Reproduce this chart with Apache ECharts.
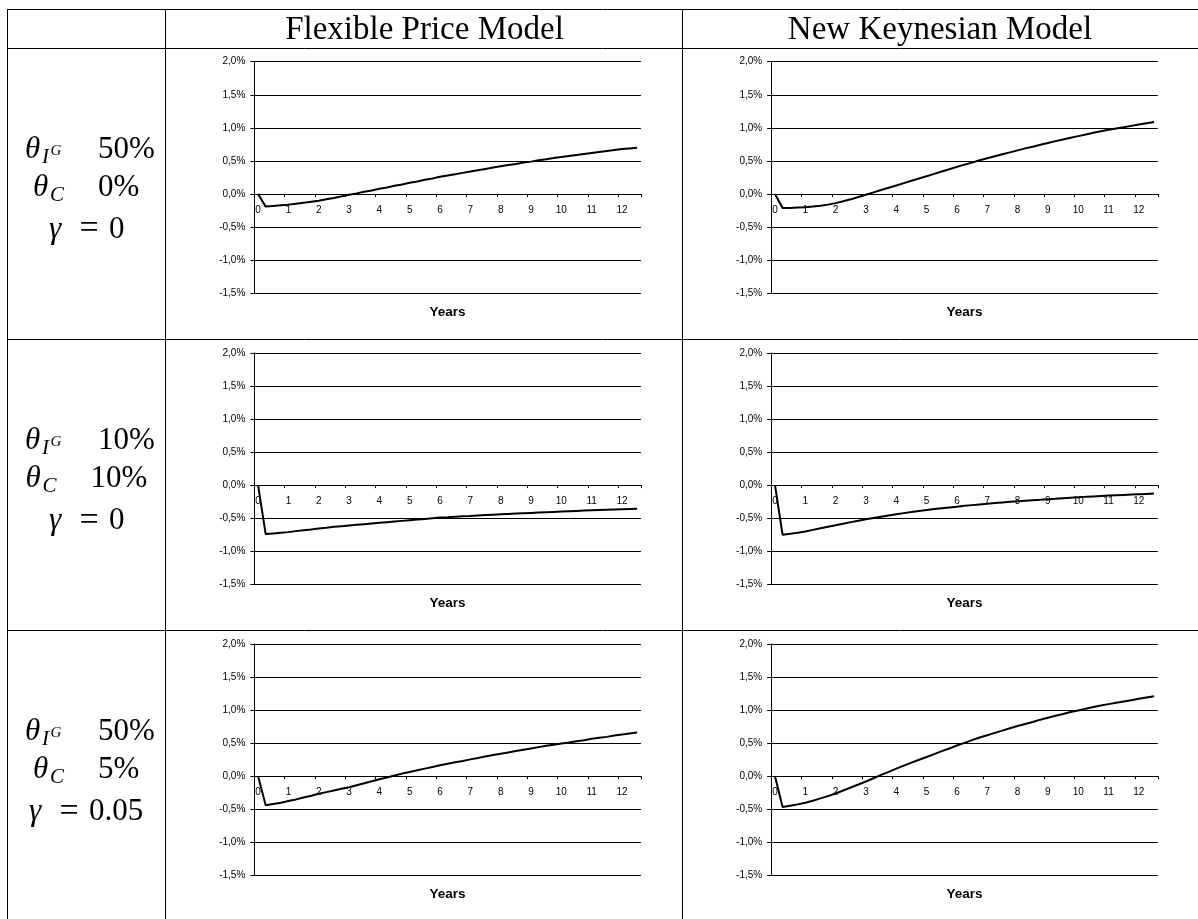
<!DOCTYPE html>
<html>
<head>
<meta charset="utf-8">
<script src="https://cdn.jsdelivr.net/npm/echarts@6/dist/echarts.min.js"></script>
<style>
html,body{margin:0;padding:0;background:#fff;}
#chart{width:1198px;height:919px;}
</style>
</head>
<body>
<div id="chart"></div>
<script>
// ---------- DATA ----------
// quarterly periods 0..50 (0 to 12.5 years)
const quarters = [0,1,2,3,4,5,6,7,8,9,10,11,12,13,14,15,16,17,18,19,20,21,22,23,24,25,26,27,28,29,30,31,32,33,34,35,36,37,38,39,40,41,42,43,44,45,46,47,48,49,50];
const yearLabels = ['0','1','2','3','4','5','6','7','8','9','10','11','12'];
const columnTitles = ['Flexible Price Model', 'New Keynesian Model'];
const thetaIG = ['50%', '10%', '50%'];
const thetaC = ['0%', '10%', '5%'];
const gammaVals = ['0', '0', '0.05'];

// values in percent
const flexRow1 = [0,-0.19,-0.18,-0.17,-0.16,-0.145,-0.13,-0.115,-0.10,-0.08,-0.06,-0.035,-0.01,0.01,0.035,0.055,0.08,0.10,0.125,0.145,0.17,0.19,0.215,0.235,0.26,0.28,0.30,0.32,0.34,0.36,0.38,0.40,0.42,0.44,0.455,0.475,0.49,0.51,0.525,0.545,0.56,0.575,0.59,0.605,0.62,0.635,0.65,0.665,0.68,0.69,0.70];
const nkRow1 = [0,-0.21,-0.21,-0.205,-0.20,-0.19,-0.178,-0.16,-0.137,-0.11,-0.08,-0.045,-0.01,0.025,0.06,0.095,0.13,0.165,0.20,0.235,0.27,0.305,0.34,0.375,0.41,0.445,0.475,0.51,0.54,0.57,0.60,0.63,0.66,0.69,0.715,0.745,0.77,0.80,0.825,0.85,0.875,0.90,0.925,0.95,0.97,0.99,1.01,1.03,1.05,1.07,1.09];
const flexRow2 = [0,-0.74,-0.73,-0.72,-0.71,-0.695,-0.68,-0.67,-0.655,-0.645,-0.63,-0.62,-0.61,-0.60,-0.59,-0.58,-0.57,-0.56,-0.55,-0.54,-0.53,-0.52,-0.51,-0.50,-0.49,-0.485,-0.478,-0.471,-0.465,-0.458,-0.452,-0.446,-0.44,-0.435,-0.43,-0.425,-0.42,-0.415,-0.41,-0.405,-0.40,-0.395,-0.39,-0.385,-0.38,-0.376,-0.372,-0.368,-0.364,-0.36,-0.356];
const nkRow2 = [0,-0.75,-0.735,-0.718,-0.70,-0.676,-0.652,-0.628,-0.605,-0.582,-0.559,-0.537,-0.515,-0.495,-0.476,-0.458,-0.44,-0.423,-0.407,-0.391,-0.375,-0.362,-0.349,-0.337,-0.325,-0.313,-0.302,-0.291,-0.28,-0.27,-0.261,-0.252,-0.243,-0.235,-0.227,-0.22,-0.212,-0.205,-0.197,-0.19,-0.183,-0.177,-0.17,-0.164,-0.158,-0.153,-0.148,-0.143,-0.138,-0.133,-0.128];
const flexRow3 = [0,-0.44,-0.42,-0.40,-0.375,-0.35,-0.32,-0.295,-0.265,-0.24,-0.215,-0.19,-0.165,-0.135,-0.105,-0.075,-0.045,-0.02,0.01,0.04,0.065,0.09,0.115,0.14,0.165,0.19,0.21,0.23,0.255,0.275,0.30,0.32,0.34,0.36,0.38,0.40,0.42,0.44,0.46,0.475,0.495,0.51,0.53,0.545,0.565,0.58,0.595,0.615,0.63,0.645,0.66];
const nkRow3 = [0,-0.465,-0.445,-0.425,-0.40,-0.37,-0.335,-0.30,-0.26,-0.215,-0.17,-0.125,-0.08,-0.03,0.02,0.065,0.115,0.16,0.205,0.25,0.29,0.335,0.38,0.42,0.465,0.505,0.545,0.585,0.62,0.655,0.69,0.725,0.76,0.79,0.82,0.855,0.885,0.915,0.94,0.97,0.995,1.02,1.045,1.07,1.09,1.11,1.13,1.15,1.17,1.19,1.21];

const panelData = [[flexRow1, nkRow1], [flexRow2, nkRow2], [flexRow3, nkRow3]];
const Y_MIN = -1.5, Y_MAX = 2.0, Y_STEP = 0.5;

// ---------- LAYOUT ----------
const ROW_H = 291.1;
const GRID_TOP0 = 61.7, GRID_H = 231.6, GRID_W = 386.6;
const colLeft = [254.3, 771.2];
const SANS = '"Liberation Sans", Arial, sans-serif';
const SERIF = '"Liberation Serif", "Times New Roman", serif';
// x axis sits on the zero line: shift it up from the grid bottom
const zeroOffset = -GRID_H * (0 - Y_MIN) / (Y_MAX - Y_MIN);

const grids = [], xAxes = [], yAxes = [], series = [];
for (let r = 0; r < 3; r++) {
  for (let c = 0; c < 2; c++) {
    const idx = grids.length;
    grids.push({left: colLeft[c], top: GRID_TOP0 + r * ROW_H, width: GRID_W, height: GRID_H,
      containLabel: false, outerBoundsMode: 'none'});
    xAxes.push({
      type: 'category', gridIndex: idx, data: quarters, boundaryGap: true,
      position: 'bottom', offset: zeroOffset,
      axisLine: {show: true, onZero: false, lineStyle: {color: '#000', width: 1}},
      axisTick: {show: true, interval: 3, length: 3, alignWithLabel: false, lineStyle: {color: '#000', width: 1}},
      axisLabel: {interval: 3, margin: 11, fontSize: 10, color: '#000', fontFamily: SANS, hideOverlap: false,
        formatter: function (v, i) { return (i % 4 === 0 && yearLabels[i / 4] !== undefined) ? yearLabels[i / 4] : ''; }},
      splitLine: {show: false},
      name: 'Years', nameLocation: 'middle', nameGap: 111,
      nameTextStyle: {fontWeight: 'bold', fontSize: 13.5, color: '#000', fontFamily: SANS}
    });
    yAxes.push({
      type: 'value', gridIndex: idx, min: Y_MIN, max: Y_MAX, interval: Y_STEP,
      axisLine: {show: true, onZero: false, lineStyle: {color: '#000', width: 1}},
      axisTick: {show: true, length: 4, lineStyle: {color: '#000', width: 1}},
      axisLabel: {margin: 9, fontSize: 10, color: '#000', fontFamily: SANS, hideOverlap: false,
        formatter: function (v) { return v.toFixed(1).replace('.', ',') + '%'; }},
      splitLine: {show: true, lineStyle: {color: '#000', width: 1}}
    });
    series.push({
      type: 'line', xAxisIndex: idx, yAxisIndex: idx, data: panelData[r][c],
      symbol: 'none', showSymbol: false, smooth: false, silent: true, z: 5,
      lineStyle: {color: '#000', width: 2}
    });
  }
}

// table lines
const graphic = [];
function hline(y) { graphic.push({type: 'line', silent: true, shape: {x1: 7, y1: y, x2: 1198, y2: y}, style: {stroke: '#000', lineWidth: 1}}); }
function vline(x) { graphic.push({type: 'line', silent: true, shape: {x1: x, y1: 9, x2: x, y2: 919}, style: {stroke: '#000', lineWidth: 1}}); }
[9.5, 48.5, 339.5, 630.5].forEach(hline);
[7.5, 165.5, 682.5].forEach(vline);

function txt(s, x, y, size, italic, align) {
  graphic.push({type: 'text', silent: true, x: x, y: y, style: {
    text: s, font: (italic ? 'italic ' : '') + size + 'px ' + SERIF, fill: '#000',
    textAlign: align || 'left', textVerticalAlign: 'middle', align: align || 'left', verticalAlign: 'middle'}});
}
// headers
txt(columnTitles[0], 424.5, 30, 33, false, 'center');
txt(columnTitles[1], 940, 30, 33, false, 'center');

// row labels
const line2X = [[33, 50, 98], [25.5, 42.5, 90.5], [33, 50, 98]];
const line3X = [[49, 89, 109], [49, 89, 109], [29, 69, 89]];
for (let r = 0; r < 3; r++) {
  const o = r * ROW_H;
  // line 1: theta_{I^G}  value
  txt('θ', 25, 150 + o, 31, true);
  txt('I', 42, 157 + o, 21, true);
  txt('G', 50.5, 151 + o, 15, true);
  txt(thetaIG[r], 98, 150 + o, 31, false);
  // line 2: theta_C  value
  txt('θ', line2X[r][0], 188 + o, 31, true);
  txt('C', line2X[r][1], 195 + o, 21, true);
  txt(thetaC[r], line2X[r][2], 188 + o, 31, false);
  // line 3: gamma = value
  txt('γ', line3X[r][0], 230 + o, 31, true);
  txt('=', line3X[r][1], 229.5 + o, 34, false, 'center');
  txt(gammaVals[r], line3X[r][2], 230 + o, 31, false);
}

const chart = echarts.init(document.getElementById('chart'), null, {renderer: 'canvas'});
chart.setOption({
  animation: false,
  backgroundColor: '#fff',
  grid: grids, xAxis: xAxes, yAxis: yAxes, series: series,
  graphic: graphic
});
</script>
</body>
</html>
